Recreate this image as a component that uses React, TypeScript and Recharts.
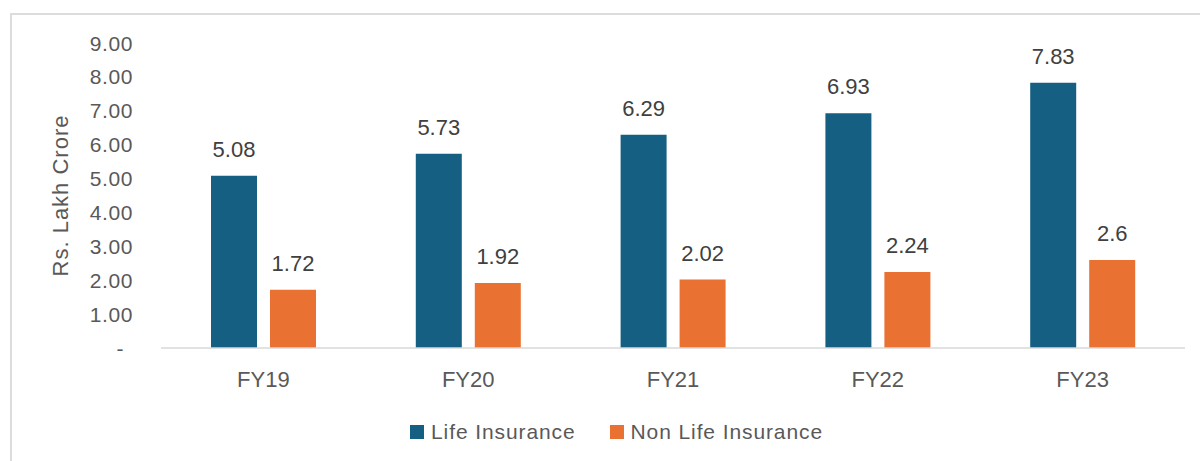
import React from 'react';
import { BarChart, Bar, XAxis, YAxis, LabelList, Legend } from 'recharts';

const categories = ['FY19', 'FY20', 'FY21', 'FY22', 'FY23'];
const lifeInsurance = [5.08, 5.73, 6.29, 6.93, 7.83];
const nonLifeInsurance = [1.72, 1.92, 2.02, 2.24, 2.6];
const yTicks = [0, 1, 2, 3, 4, 5, 6, 7, 8, 9];
const seriesNames = ['Life Insurance', 'Non Life Insurance'];
const yAxisTitle = 'Rs. Lakh Crore';

const data = categories.map((c, i) => ({
  category: c,
  life: lifeInsurance[i],
  nonLife: nonLifeInsurance[i],
}));

const FONT = '"Liberation Sans", Arial, sans-serif';
const BLUE = '#156082';
const ORANGE = '#E97132';
const GRAY_TEXT = '#595959';
const LABEL_TEXT = '#404040';

const YTick = (props: any) => {
  const { x, y, payload } = props;
  const v = payload.value as number;
  const isZero = v === 0;
  return (
    <text
      x={isZero ? x - 9 : x}
      y={y}
      dy="0.36em"
      textAnchor="end"
      fill={GRAY_TEXT}
      fontSize={21}
      fontFamily={FONT}
      letterSpacing={0.6}
    >
      {isZero ? '-' : v.toFixed(2)}
    </text>
  );
};

const XTick = (props: any) => {
  const { x, y, payload } = props;
  return (
    <text x={x} y={y} dy={39} textAnchor="middle" fill={GRAY_TEXT} fontSize={22} fontFamily={FONT}>
      {payload.value}
    </text>
  );
};

const YTitle = (props: any) => {
  const vb = props.viewBox || {};
  const cx = (vb.x || 0) + 60;
  const cy = (vb.y || 0) + (vb.height || 0) / 2;
  return (
    <text
      x={cx}
      y={cy}
      transform={`rotate(-90 ${cx} ${cy})`}
      textAnchor="middle"
      dominantBaseline="central"
      fill={GRAY_TEXT}
      fontSize={22}
      fontFamily={FONT}
      letterSpacing={1}
    >
      {yAxisTitle}
    </text>
  );
};

const LegendContent = (props: any) => {
  const payload = props.payload || [];
  return (
    <div style={{ display: 'flex', alignItems: 'center', height: 24, fontFamily: FONT, fontSize: 21, color: GRAY_TEXT, letterSpacing: 0.9 }}>
      {payload.map((p: any, i: number) => (
        <div key={i} style={{ display: 'flex', alignItems: 'center', marginRight: 34 }}>
          <span style={{ display: 'inline-block', width: 14, height: 14, background: p.color, marginRight: 7 }} />
          <span style={{ lineHeight: '24px', whiteSpace: 'nowrap' }}>{p.value}</span>
        </div>
      ))}
    </div>
  );
};

export default function App() {
  return (
    <div style={{ position: 'absolute', left: 0, top: 0, width: 1200, height: 461, overflow: 'hidden', background: '#fff' }}>
      <div style={{ position: 'absolute', left: 10, top: 13, width: 1400, height: 700, border: '2px solid #dcdcdc', boxSizing: 'border-box' }} />
      <div style={{ position: 'absolute', left: 0, top: 0 }}>
        <BarChart
          width={1200}
          height={461}
          data={data}
          margin={{ top: 43, right: 15, bottom: 83, left: 0 }}
          barGap={13}
        >
          <XAxis
            dataKey="category"
            height={30}
            tickLine={false}
            tickSize={0}
            tickMargin={0}
            axisLine={{ stroke: '#d9d9d9', strokeWidth: 1.5 }}
            tick={<XTick />}
          />
          <YAxis
            width={161}
            domain={[0, 9]}
            ticks={yTicks}
            axisLine={false}
            tickLine={false}
            tickSize={0}
            tickMargin={28}
            tick={<YTick />}
            label={{ content: <YTitle /> }}
          />
          <Legend
            layout="horizontal"
            verticalAlign="middle"
            align="center"
            wrapperStyle={{ top: 420, left: 410, width: 700 }}
            content={<LegendContent />}
          />
          <Bar dataKey="life" name={seriesNames[0]} fill={BLUE} barSize={46} isAnimationActive={false}>
            <LabelList dataKey="life" position="top" offset={19} fill={LABEL_TEXT} fontSize={22} fontFamily={FONT} />
          </Bar>
          <Bar dataKey="nonLife" name={seriesNames[1]} fill={ORANGE} barSize={46} isAnimationActive={false}>
            <LabelList dataKey="nonLife" position="top" offset={19} fill={LABEL_TEXT} fontSize={22} fontFamily={FONT} />
          </Bar>
        </BarChart>
      </div>
    </div>
  );
}
